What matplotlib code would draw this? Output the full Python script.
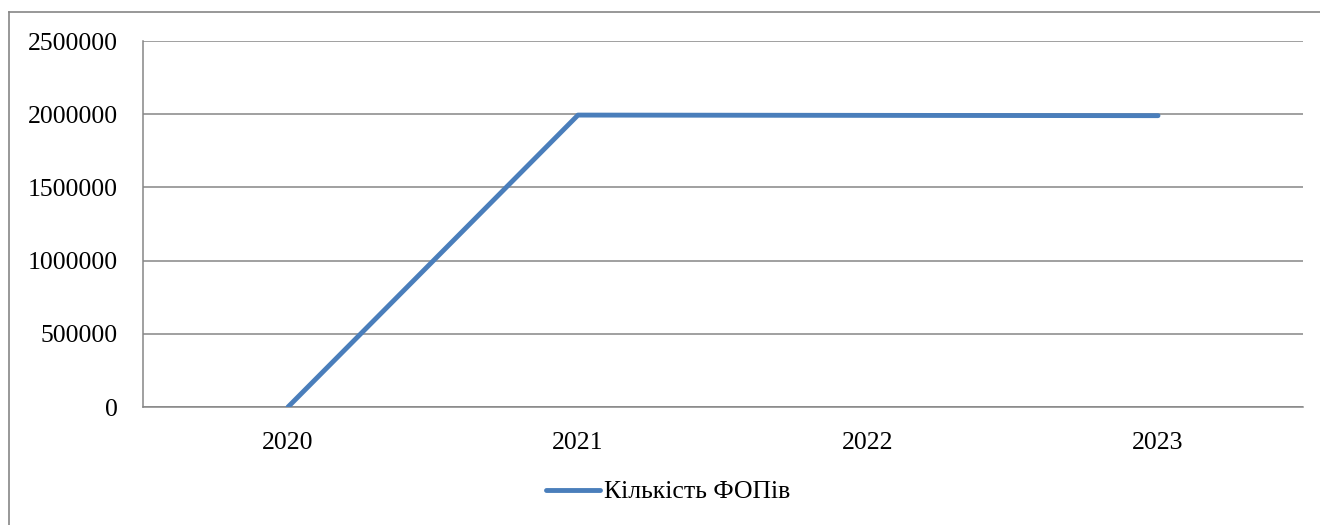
import matplotlib
matplotlib.use("Agg")
import matplotlib.pyplot as plt
from matplotlib.lines import Line2D

years = ["2020", "2021", "2022", "2023"]
fop_count = [0, 1994000, 1992000, 1990000]
series_label = "Кількість ФОПів"
y_ticks = [0, 500000, 1000000, 1500000, 2000000, 2500000]

FAM = ['Liberation Serif', 'DejaVu Serif']
plt.rcParams['font.family'] = FAM
W, H = 1320, 525
fig = plt.figure(figsize=(W / 100, H / 100), dpi=100)
ax = fig.add_axes([143 / W, 1 - 407 / H, (1303 - 143) / W, (407 - 41) / H])

x = list(range(len(years)))
line, = ax.plot(x, fop_count, color='#4A7EBB', lw=3.5, solid_capstyle='round',
                solid_joinstyle='round', label=series_label, zorder=3)

ax.set_xlim(-0.5, len(years) - 0.5)
ax.set_ylim(0, 2500000)
ax.set_yticks(y_ticks)
ax.set_yticklabels([str(v) for v in y_ticks], family=FAM)
ax.set_xticks(x)
ax.set_xticklabels(years, family=FAM)
ax.tick_params(axis='both', length=0, labelsize=18.5, colors='black')
ax.tick_params(axis='y', pad=18)
ax.tick_params(axis='x', pad=18)
ax.yaxis.grid(True, color='#868686', lw=1.1)
ax.set_axisbelow(True)
for s in ['top', 'right']:
    ax.spines[s].set_visible(False)
for s in ['left', 'bottom']:
    ax.spines[s].set_color('#868686')
    ax.spines[s].set_linewidth(1.1)

# outer chart border (left and top visible)
fig.add_artist(Line2D([9 / W, 9 / W], [0, 1 - 12 / H], color='#868686', lw=1.2,
                      transform=fig.transFigure))
fig.add_artist(Line2D([9 / W, 1], [1 - 12 / H, 1 - 12 / H], color='#868686', lw=1.2,
                      transform=fig.transFigure))

fig.legend(handles=[line], labels=[series_label], loc='center left',
           bbox_to_anchor=(546 / W, 1 - 492 / H), frameon=False,
           prop={'family': FAM, 'size': 18.5},
           handlelength=2.1, handletextpad=0.15, borderpad=0, borderaxespad=0)

fig.savefig('out.png', dpi=100)
